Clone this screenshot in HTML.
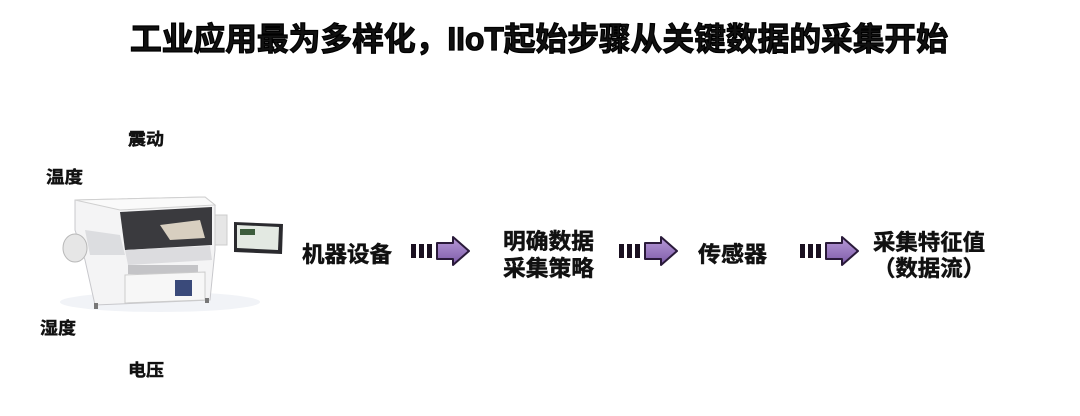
<!DOCTYPE html>
<html><head><meta charset="utf-8">
<style>
html,body{margin:0;padding:0;background:#fff;}
svg{display:block;}
text{font-family:"Liberation Sans","Noto Sans CJK SC",sans-serif;font-weight:bold;fill:#111;}
</style></head>
<body>
<svg width="1080" height="416" viewBox="0 0 1080 416" xmlns="http://www.w3.org/2000/svg">
<defs>
<linearGradient id="pg" x1="0" y1="0" x2="0" y2="1"><stop offset="0" stop-color="#b79ad8"/><stop offset="1" stop-color="#7d5aa8"/></linearGradient>
<g id="arr">
<rect x="0" y="7" width="5" height="14" fill="#1a1020"/>
<rect x="8" y="7" width="5" height="14" fill="#1a1020"/>
<rect x="16" y="7" width="5" height="14" fill="#1a1020"/>
<path d="M26 6 H42 V0 L58 14 L42 28 V22 H26 Z" fill="url(#pg)" stroke="#2a1a3a" stroke-width="2" stroke-linejoin="round"/>
</g>
</defs>

<text x="130" y="50" font-size="32" textLength="818" lengthAdjust="spacingAndGlyphs" stroke="#000" stroke-width="1.2">工业应用最为多样化，IIoT起始步骤从关键数据的采集开始</text>

<g stroke="#111" stroke-width="0.4">
<text x="128" y="145" font-size="17" textLength="36" lengthAdjust="spacingAndGlyphs">震动</text>
<text x="46" y="183" font-size="17" textLength="37" lengthAdjust="spacingAndGlyphs">温度</text>
<text x="40" y="334" font-size="17" textLength="36" lengthAdjust="spacingAndGlyphs">湿度</text>
<text x="128" y="376" font-size="17" textLength="36" lengthAdjust="spacingAndGlyphs">电压</text>
</g>

<!-- machine -->
<g>
<ellipse cx="160" cy="302" rx="100" ry="10" fill="#f1f3f7"/>
<path d="M75 200 L205 197 L215 205 L215 250 L210 300 L95 305 L85 260 L75 230 Z" fill="#f4f4f5" stroke="#c8c8cc" stroke-width="1"/>
<path d="M75 200 L205 197 L215 205 L120 210 Z" fill="#fafafa" stroke="#d0d0d0"/>
<path d="M120 212 L212 207 L212 245 L125 250 Z" fill="#3a3a3e"/>
<path d="M160 225 L200 220 L205 238 L170 240 Z" fill="#d8cfc0"/>
<path d="M85 230 L120 235 L125 255 L90 255 Z" fill="#dcdde0"/>
<ellipse cx="75" cy="248" rx="12" ry="14" fill="#e6e6e6" stroke="#b8b8b8"/>
<path d="M125 250 L210 246 L212 260 L128 265 Z" fill="#dcdcdf"/>
<rect x="128" y="265" width="70" height="9" fill="#c4c4c7"/>
<path d="M125 275 L205 272 L205 300 L125 303 Z" fill="#f7f7f7" stroke="#ccc"/>
<rect x="175" y="280" width="17" height="16" fill="#3a4a7a"/>
<rect x="94" y="303" width="4" height="6" fill="#777"/>
<rect x="205" y="298" width="4" height="5" fill="#777"/>
<rect x="215" y="215" width="12" height="30" fill="#e6e6e6" stroke="#ccc"/>
<path d="M234 222 L283 224 L282 254 L234 252 Z" fill="#2a2a2e"/>
<path d="M237 225 L279 227 L278 250 L237 248 Z" fill="#e3e9e2"/>
<rect x="240" y="229" width="15" height="6" fill="#3c5c3c"/>
</g>

<use href="#arr" x="411" y="237"/>
<use href="#arr" x="619" y="237"/>
<use href="#arr" x="800" y="237"/>

<g stroke="#111" stroke-width="0.5">
<text x="302" y="262" font-size="22" textLength="90" lengthAdjust="spacingAndGlyphs">机器设备</text>
<text x="503" y="249" font-size="22" textLength="91" lengthAdjust="spacingAndGlyphs">明确数据</text>
<text x="503" y="276" font-size="22" textLength="91" lengthAdjust="spacingAndGlyphs">采集策略</text>
<text x="698" y="262" font-size="22" textLength="69" lengthAdjust="spacingAndGlyphs">传感器</text>
<text x="873" y="250" font-size="22" textLength="112" lengthAdjust="spacingAndGlyphs">采集特征值</text>
<text x="873" y="276" font-size="22" textLength="112" lengthAdjust="spacingAndGlyphs">（数据流）</text>
</g>
</svg>
</body></html>
